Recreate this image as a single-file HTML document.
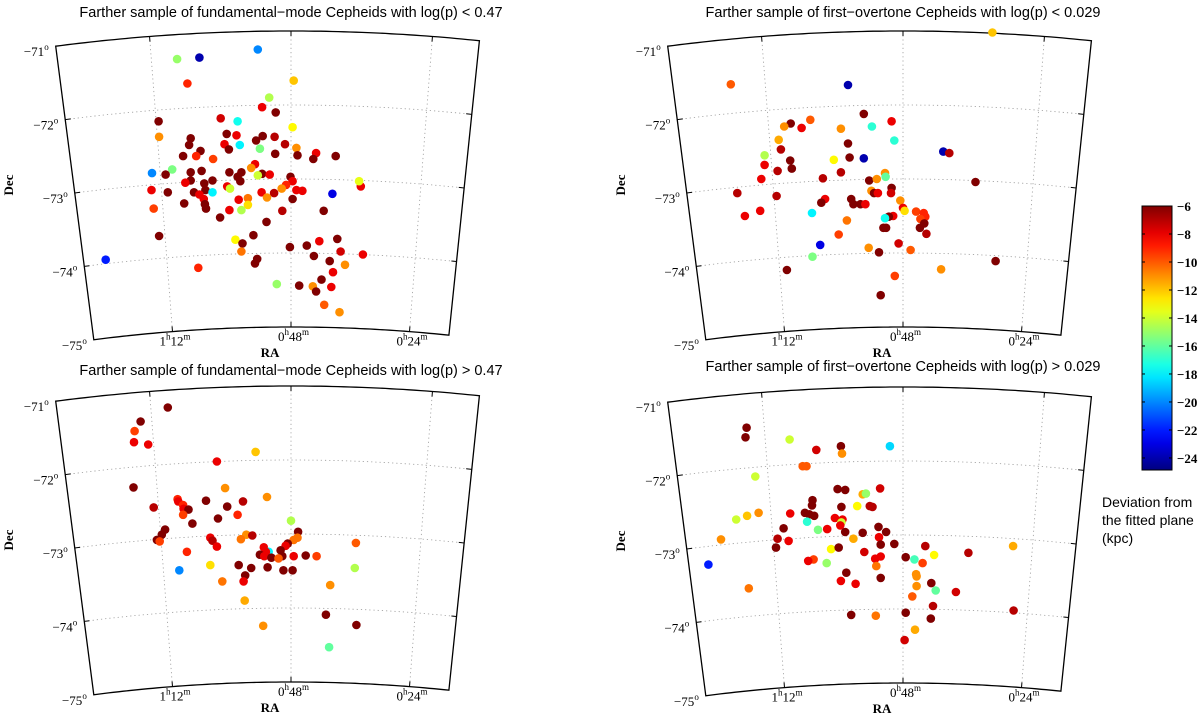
<!DOCTYPE html>
<html><head><meta charset="utf-8"><style>
html,body{margin:0;padding:0;background:#fff;}
svg{display:block;}
</style></head><body>
<svg id="fig" width="1200" height="727" viewBox="0 0 1200 727" xmlns="http://www.w3.org/2000/svg"></svg>
<script>
// ---------- Panel data: RA (minutes of 0h), Dec (deg), deviation (kpc) ----------
const ra1=[54.1,64.8,68.9,67.0,47.5,52.0,53.3,50.8,60.9,57.8,72.3,47.7,59.8,58.0,72.2,66.4,53.2,51.0,54.4,66.7,60.2,57.4,49.1,47.0,59.4,53.7,64.6,50.9,67.8,65.4,46.8,43.4,43.9,39.8,62.3,54.6,55.3,69.8,66.4,64.4,73.5,71.0,59.3,57.1,53.3,54.1,51.9,48.1,57.8,66.4,62.4,57.3,47.7,67.4,63.9,59.7,59.2,48.9,49.7,47.0,45.9,73.6,63.7,62.4,70.6,65.8,53.4,51.1,40.4,35.2,35.5,64.8,64.0,55.9,52.4,57.6,47.7,67.6,63.8,55.9,63.6,73.2,59.3,57.1,49.6,42.0,61.0,52.5,72.2,54.9,58.2,56.9,39.5,42.8,45.1,48.2,38.9,34.8,57.1,43.8,82.0,54.2,54.6,40.9,38.1,65.0,40.3,42.4,50.6,46.5,44.0,40.6,43.4,41.9,39.1];
const dec1=[-71.25,-71.36,-71.38,-71.71,-71.67,-71.90,-72.03,-72.10,-72.18,-72.22,-72.22,-72.30,-72.39,-72.41,-72.43,-72.45,-72.42,-72.43,-72.48,-72.54,-72.53,-72.54,-72.53,-72.58,-72.60,-72.59,-72.62,-72.66,-72.69,-72.69,-72.68,-72.65,-72.73,-72.69,-72.73,-72.80,-72.85,-72.87,-72.91,-72.89,-72.92,-72.94,-72.91,-72.91,-72.93,-72.95,-72.94,-72.97,-72.97,-73.02,-73.02,-73.03,-73.03,-73.05,-73.06,-73.10,-73.13,-73.08,-73.13,-73.15,-73.16,-73.15,-73.15,-73.18,-73.18,-73.18,-73.18,-73.19,-73.20,-73.10,-73.03,-73.21,-73.27,-73.26,-73.25,-73.28,-73.27,-73.33,-73.34,-73.35,-73.40,-73.40,-73.42,-73.42,-73.43,-73.43,-73.52,-73.58,-73.77,-73.76,-73.82,-73.87,-73.81,-73.84,-73.90,-73.92,-73.98,-74.02,-73.98,-74.04,-74.09,-74.08,-74.14,-74.11,-74.16,-74.20,-74.26,-74.36,-74.42,-74.44,-74.45,-74.46,-74.52,-74.70,-74.80];
const dev1=[-20,-24,-15,-9,-12,-14.5,-8,-6,-7.5,-17.5,-6,-13,-6,-8,-11,-6,-6,-7,-6,-6,-8,-18,-7,-11,-6,-15.5,-6,-6,-6,-9,-6,-8,-6,-6,-9.5,-8,-11,-15.5,-6,-6,-20,-6,-6,-6,-6,-14,-8,-6,-6,-6,-6,-6,-8,-8,-6,-8,-14,-9,-11,-8,-8,-8,-6,-18,-6,-6,-8,-7,-23,-8,-13.5,-8,-8,-10.5,-11,-8,-6,-6,-6,-12.5,-6,-9.5,-8,-14.5,-7,-6,-6,-6,-6,-6,-13,-6,-6,-8,-6,-6,-7.5,-8,-10.5,-6,-22,-6,-6,-6,-11,-9,-8,-6,-15,-6,-11,-8,-6,-10,-11];

const ra2=[31.6,79.6,58.1,55.2,50.1,65.0,68.6,66.6,69.8,59.4,53.7,70.8,49.6,58.1,70.4,40.6,39.5,73.4,57.8,55.2,60.7,68.7,73.4,68.4,71.0,59.4,51.3,51.2,74.0,62.7,54.2,52.8,50.1,53.8,53.3,52.6,50.2,78.4,71.2,48.5,62.3,63.0,57.5,57.1,55.8,54.9,48.0,47.7,45.6,44.2,43.9,44.8,74.2,77.0,64.7,49.8,50.6,51.3,58.3,44.1,44.9,51.6,51.1,43.7,59.8,48.8,63.2,54.3,46.6,52.4,64.6,31.0,41.0,69.3,49.5,52.1,34.7];
const dec2=[-71.02,-71.72,-71.73,-72.12,-72.22,-72.20,-72.25,-72.31,-72.29,-72.32,-72.29,-72.47,-72.48,-72.52,-72.60,-72.63,-72.65,-72.68,-72.71,-72.72,-72.74,-72.75,-72.81,-72.86,-72.89,-72.91,-72.92,-72.97,-73.00,-72.99,-73.02,-73.00,-73.12,-73.16,-73.19,-73.19,-73.19,-73.19,-73.23,-73.29,-73.27,-73.32,-73.27,-73.34,-73.34,-73.34,-73.39,-73.43,-73.44,-73.46,-73.51,-73.54,-73.43,-73.50,-73.46,-73.50,-73.51,-73.53,-73.56,-73.60,-73.66,-73.66,-73.66,-73.74,-73.75,-73.87,-73.89,-73.93,-73.96,-73.99,-74.05,-74.11,-74.22,-74.23,-74.31,-74.57,-73.04];
const dev2=[-12,-10,-24,-6,-8,-10,-6,-8,-11,-11,-17,-11.5,-17,-6,-7,-24,-7,-14.5,-6,-24,-13,-6,-8,-6,-7,-7,-11,-16,-8,-7,-6,-11,-6,-11,-6,-8,-7.5,-7,-7,-11,-8,-6,-6,-6,-6,-8,-8,-12.5,-9.5,-9,-9,-9.5,-8,-8,-18,-8,-6,-17.5,-10.5,-6,-6,-6,-6,-7,-9.5,-7.5,-23,-11,-10,-6,-15.5,-6,-11,-6,-9.5,-6,-6];

const ra3=[70.6,75.6,76.7,76.8,74.2,54.5,61.6,76.9,60.1,52.4,68.8,68.7,63.6,56.8,73.2,67.8,59.7,67.7,66.8,67.8,57.8,61.4,48.0,66.1,71.1,46.7,71.7,56.2,55.1,57.2,62.8,62.4,72.6,72.1,47.5,46.8,48.6,61.6,53.0,49.0,36.1,49.9,67.1,52.1,52.6,53.7,52.9,51.6,49.6,50.3,47.5,45.3,43.3,62.8,57.6,52.3,55.3,68.5,49.4,47.7,36.3,56.4,56.7,60.6,40.8,56.5,41.6,36.0,53.1,41.0];
const dec3=[-71.29,-71.48,-71.61,-71.76,-71.79,-71.89,-72.02,-72.37,-72.38,-72.50,-72.53,-72.56,-72.55,-72.56,-72.64,-72.61,-72.63,-72.66,-72.67,-72.74,-72.74,-72.79,-72.82,-72.86,-72.94,-72.97,-73.01,-73.01,-73.02,-73.07,-73.05,-73.09,-73.08,-73.10,-73.08,-73.05,-73.13,-73.17,-73.18,-73.16,-73.12,-73.22,-73.24,-73.24,-73.24,-73.28,-73.30,-73.32,-73.30,-73.33,-73.30,-73.29,-73.30,-73.42,-73.42,-73.45,-73.46,-73.49,-73.49,-73.49,-73.46,-73.56,-73.64,-73.64,-73.69,-73.90,-74.09,-74.23,-74.24,-74.53];
const dev3=[-6,-6,-9.5,-8,-8,-12,-8,-6,-11,-11,-9,-8,-6,-7,-7,-9,-6,-8,-6,-9.5,-9,-6,-14.5,-6,-6,-6,-6,-11,-7,-10.5,-8,-7,-6,-9.5,-10.5,-10.5,-6,-8,-8,-8,-10,-6,-9,-18,-8,-6,-8,-6,-6,-10,-8,-6,-9.5,-12.5,-6,-6,-6,-20,-6,-6,-14.5,-6,-8,-10.5,-11,-11.5,-6,-6,-11,-16];

const ra4=[76.7,76.9,68.8,59.4,63.9,59.2,50.4,66.4,65.7,75.1,60.0,58.6,52.2,55.4,54.8,64.6,64.7,59.3,56.4,54.1,53.6,74.5,76.6,78.6,68.7,66.0,65.2,64.3,60.5,59.1,59.3,65.6,59.5,69.9,63.6,61.9,58.6,55.4,52.5,51.1,52.4,81.4,71.0,69.0,57.1,52.1,49.6,43.9,27.8,71.3,61.2,59.8,55.1,42.3,36.0,47.5,52.1,53.1,45.9,64.4,65.4,62.0,44.4,83.7,52.9,58.4,52.1,45.6,45.5,59.4,56.7,45.5,42.8,42.0,38.3,76.3,46.3,42.5,57.5,53.0,47.5,42.9,27.7,45.8,47.7];
const dec4=[-71.55,-71.68,-71.71,-71.80,-71.85,-71.90,-71.80,-72.07,-72.07,-72.21,-72.38,-72.39,-72.37,-72.45,-72.44,-72.53,-72.60,-72.62,-72.61,-72.61,-72.62,-72.70,-72.74,-72.79,-72.71,-72.70,-72.72,-72.74,-72.77,-72.79,-72.83,-72.82,-72.87,-72.91,-72.93,-72.92,-72.96,-72.97,-72.89,-72.96,-73.03,-73.06,-73.05,-73.08,-73.05,-73.13,-73.12,-73.15,-73.15,-73.17,-73.19,-73.17,-73.23,-73.27,-73.24,-73.30,-73.29,-73.32,-73.33,-73.33,-73.35,-73.38,-73.38,-73.40,-73.42,-73.51,-73.58,-73.53,-73.56,-73.62,-73.66,-73.69,-73.65,-73.75,-73.77,-73.72,-73.83,-73.96,-74.08,-74.09,-74.05,-74.13,-74.02,-74.28,-74.42];
const dev4=[-6,-6,-14,-6,-7.5,-11,-18.5,-10,-10,-14,-6,-6,-7.5,-11.5,-15,-6,-6,-6,-13,-7,-7,-11,-12,-14,-8,-6,-6,-6,-8,-8,-14,-17,-8,-6,-15.5,-8,-6,-6,-6,-6,-8,-11,-7,-8,-11.5,-6,-6,-7,-11.5,-6,-13,-6,-7.5,-13,-7,-6,-8,-8,-16.5,-9.5,-8,-15,-9.5,-22,-10.5,-6,-6,-11,-11,-8,-8,-11,-6,-16,-7.5,-10.5,-10,-7,-6,-10.5,-6,-6,-7,-11.5,-7.5];

const titles=["Farther sample of fundamental\u2212mode Cepheids with log(p) < 0.47","Farther sample of first\u2212overtone Cepheids with log(p) < 0.029","Farther sample of fundamental\u2212mode Cepheids with log(p) > 0.47","Farther sample of first\u2212overtone Cepheids with log(p) > 0.029"];
const decTicks=[-71,-72,-73,-74,-75];
const raTicks=[72,48,24];
const raTickLabels=[["1","h","12","m"],["0","h","48","m"],["0","h","24","m"]];
const cbTicks=[-6,-8,-10,-12,-14,-16,-18,-20,-22,-24];

const NS="http://www.w3.org/2000/svg";
const svg=document.getElementById('fig');
function el(tag,attrs,parent){const e=document.createElementNS(NS,tag);for(const k in attrs)e.setAttribute(k,attrs[k]);(parent||svg).appendChild(e);return e;}

// jet colormap
function jet(t){t=Math.max(0,Math.min(1,t));
 const r=Math.max(0,Math.min(1,1.5-Math.abs(4*t-3))),g=Math.max(0,Math.min(1,1.5-Math.abs(4*t-2))),b=Math.max(0,Math.min(1,1.5-Math.abs(4*t-1)));
 return `rgb(${Math.round(r*255)},${Math.round(g*255)},${Math.round(b*255)})`;}
const cMin=-24.86,cMax=-6;
function color(v){return jet((v-cMin)/(cMax-cMin));}

// axis functions (panel-relative)
const CX=291,CY=1858,R0=1827,PXD=74,DEGPERMIN=4.44/24;
function proj(ra,dec){const th=(ra-48)*DEGPERMIN*Math.PI/180;const r=R0-(-71-dec)*PXD;return [CX-r*Math.sin(th),CY-r*Math.cos(th)];}
function xScale(ra){return CX-(ra-48)*5.45;}
function yScale(dec){return 31+(-71-dec)*PXD;}
const RA_L=88,RA_R=16;

const panels=[{ox:0,oy:0,ra:ra1,dec:dec1,dev:dev1},{ox:612,oy:0,ra:ra2,dec:dec2,dev:dev2},{ox:0,oy:355,ra:ra3,dec:dec3,dev:dev3},{ox:612,oy:356,ra:ra4,dec:dec4,dev:dev4}];
const titleY=[17,17,375,371];

panels.forEach((p,i)=>{
 const g=el('g',{transform:`translate(${p.ox},${p.oy})`});
 
 
 const t=el('text',{x:291,y:titleY[i]-p.oy,'text-anchor':'middle','font-family':'Liberation Sans, sans-serif','font-size':'14.5',fill:'#000'},g);
 t.textContent=titles[i];
 
 
 // grid
 const grid=el('g',{stroke:'#999','stroke-width':'0.8','stroke-dasharray':'1.2 3',fill:'none'},g);
 
 
 [-72,-73,-74].forEach(d=>{let pts=[];for(let ra=RA_L;ra>=RA_R;ra-=1)pts.push(proj(ra,d).map(v=>v.toFixed(1)).join(','));el('polyline',{points:pts.join(' ')},grid);});
 raTicks.forEach(ra=>{const a=proj(ra,-71),b=proj(ra,-75);el('line',{x1:a[0],y1:a[1],x2:b[0],y2:b[1]},grid);});
 // frame
 let d='';
 for(let ra=RA_L;ra>=RA_R;ra-=1){const q=proj(ra,-71);d+=(d?'L':'M')+q[0].toFixed(1)+','+q[1].toFixed(1);}
 for(let ra=RA_R;ra<=RA_L;ra+=1){const q=proj(ra,-75);d+='L'+q[0].toFixed(1)+','+q[1].toFixed(1);}
 d+='Z';
 const fr=el('path',{d:d,fill:'none',stroke:'#000','stroke-width':'1.3'},g);
 
 
 // ticks on frame
 raTicks.forEach(ra=>{const a=proj(ra,-71),a2=proj(ra,-71.07),b=proj(ra,-75),b2=proj(ra,-74.93);
  el('line',{x1:a[0],y1:a[1],x2:a2[0],y2:a2[1],stroke:'#000','stroke-width':'1'},g);
  el('line',{x1:b[0],y1:b[1],x2:b2[0],y2:b2[1],stroke:'#000','stroke-width':'1'},g);});
 [-72,-73,-74].forEach(dd=>{const a=proj(RA_L,dd),a2=proj(RA_L-1,dd),b=proj(RA_R,dd),b2=proj(RA_R+1,dd);
  el('line',{x1:a[0],y1:a[1],x2:a2[0],y2:a2[1],stroke:'#000','stroke-width':'1'},g);
  el('line',{x1:b[0],y1:b[1],x2:b2[0],y2:b2[1],stroke:'#000','stroke-width':'1'},g);});
 // dec labels
 decTicks.forEach(dd=>{const q=proj(RA_L,dd);
  const tx=el('text',{x:q[0]-7,y:q[1]+10,'text-anchor':'end','font-family':'Liberation Serif, serif','font-size':'13',fill:'#000'},g);
  
  
  tx.appendChild(document.createTextNode('\u2212'+Math.abs(dd)));
  const s=el('tspan',{'font-size':'9',dy:'-6'},tx);s.textContent='o';});
 // RA labels
 raTicks.forEach((ra,k)=>{const q=proj(ra,-75);const L=raTickLabels[k];
  const tx=el('text',{x:q[0]-13,y:q[1]+14,'font-family':'Liberation Serif, serif','font-size':'13',fill:'#000'},g);
  
  
  tx.appendChild(document.createTextNode(L[0]));
  const h=el('tspan',{'font-size':'9',dy:'-6'},tx);h.textContent=L[1];
  const n=el('tspan',{dy:'6'},tx);n.textContent=L[2];
  const m=el('tspan',{'font-size':'9',dy:'-6'},tx);m.textContent=L[3];});
 const rl=el('text',{x:270,y:357,'text-anchor':'middle','font-family':'Liberation Serif, serif','font-weight':'bold','font-size':'13',fill:'#000'},g);
 rl.textContent='RA';
 
 
 const dl=el('text',{x:0,y:0,transform:'translate(13,185) rotate(-90)','text-anchor':'middle','font-family':'Liberation Serif, serif','font-weight':'bold','font-size':'13',fill:'#000'},g);
 dl.textContent='Dec';
 
 
 // points
 const pg=el('g',{},g);
 
 
 const n=Math.min(p.ra.length,p.dec.length,p.dev.length);
 for(let j=0;j<n;j++){
  const c=el('circle',{cx:xScale(p.ra[j]).toFixed(1),cy:yScale(p.dec[j]).toFixed(1),r:'4.3',fill:color(p.dev[j])},pg);
  
  
 }
});

// colorbar
const cbX=1142,cbW=30,cbTop=206,cbBot=470;
function cbY(v){return cbTop+(cMax-v)/(cMax-cMin)*(cbBot-cbTop);}
const defs=el('defs',{});
const lg=el('linearGradient',{id:'jetg',x1:'0',y1:'1',x2:'0',y2:'0'},defs);
for(let k=0;k<=20;k++){el('stop',{offset:(k/20).toFixed(2),'stop-color':jet(k/20)},lg);}
const cb=el('rect',{x:cbX,y:cbTop,width:cbW,height:cbBot-cbTop,fill:'url(#jetg)',stroke:'#000','stroke-width':'1'});


cbTicks.forEach(v=>{const y=cbY(v);
 el('line',{x1:cbX,y1:y,x2:cbX+3,y2:y,stroke:'#000','stroke-width':'1'});
 el('line',{x1:cbX+cbW-3,y1:y,x2:cbX+cbW,y2:y,stroke:'#000','stroke-width':'1'});
 const t=el('text',{x:cbX+cbW+5,y:y+5,'font-family':'Liberation Serif, serif','font-weight':'bold','font-size':'13',fill:'#000'});
 t.textContent='\u2212'+Math.abs(v);
 
 });
const lbl=["Deviation from","the fitted plane","(kpc)"];
lbl.forEach((s,k)=>{const t=el('text',{x:1102,y:507+k*18,'font-family':'Liberation Sans, sans-serif','font-size':'14',fill:'#000'});
 t.textContent=s;
 
 });
</script>
</body></html>
